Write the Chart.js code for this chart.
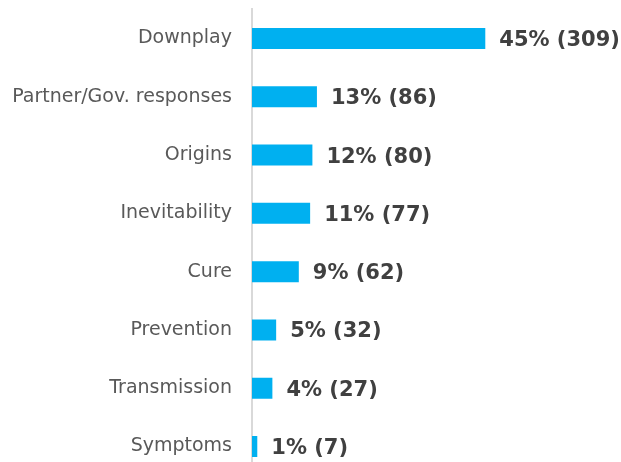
<!DOCTYPE html>
<html>
<head>
<meta charset="utf-8">
<script src="https://cdn.jsdelivr.net/npm/chart.js@4"></script>
<style>
  html, body { margin: 0; padding: 0; background: #fff; overflow: hidden; }
  #wrap { width: 621px; height: 462px; overflow: hidden; }
  canvas { display: block; margin-top: -14px; }
</style>
</head>
<body>
<div id="wrap"><canvas id="myChart" width="621" height="513"></canvas></div>
<script>
// categories and values
const categories = ['Downplay', 'Partner/Gov. responses', 'Origins', 'Inevitability', 'Cure', 'Prevention', 'Transmission', 'Symptoms'];
const counts = [309, 86, 80, 77, 62, 32, 27, 7];
const percents = [45, 13, 12, 11, 9, 5, 4, 1];

// draws "45% (309)" to the right of each bar
const valueLabels = {
  id: 'valueLabels',
  afterDatasetsDraw(chart) {
    const ctx = chart.ctx;
    const meta = chart.getDatasetMeta(0);
    ctx.save();
    ctx.font = 'bold 21px "DejaVu Sans"';
    ctx.fillStyle = '#404040';
    ctx.textAlign = 'left';
    ctx.textBaseline = 'middle';
    meta.data.forEach((bar, i) => {
      ctx.fillText(percents[i] + '% (' + counts[i] + ')', bar.x + 14, bar.y + 2);
    });
    ctx.restore();
  }
};

const ctx = document.getElementById('myChart').getContext('2d');
const c = new Chart(ctx, {
  type: 'bar',
  data: {
    labels: categories,
    datasets: [{
      data: counts,
      backgroundColor: '#00B0F0',
      categoryPercentage: 1,
      barPercentage: 0.36
    }]
  },
  options: {
    indexAxis: 'y',
    responsive: false,
    animation: false,
    layout: { padding: { top: 9, bottom: 1, left: 0, right: 67 } },
    plugins: {
      legend: { display: false },
      tooltip: { enabled: false }
    },
    scales: {
      x: {
        display: false,
        min: 0,
        max: 400
      },
      y: {
        afterFit(scale) { scale.width = 252; },
        grid: { display: false },
        border: { display: true, color: '#d9d9d9', width: 2 },
        ticks: {
          padding: 12,
          color: '#595959',
          font: { family: 'DejaVu Sans', size: 19 }
        }
      }
    }
  },
  plugins: [valueLabels]
});
</script>
</body>
</html>
